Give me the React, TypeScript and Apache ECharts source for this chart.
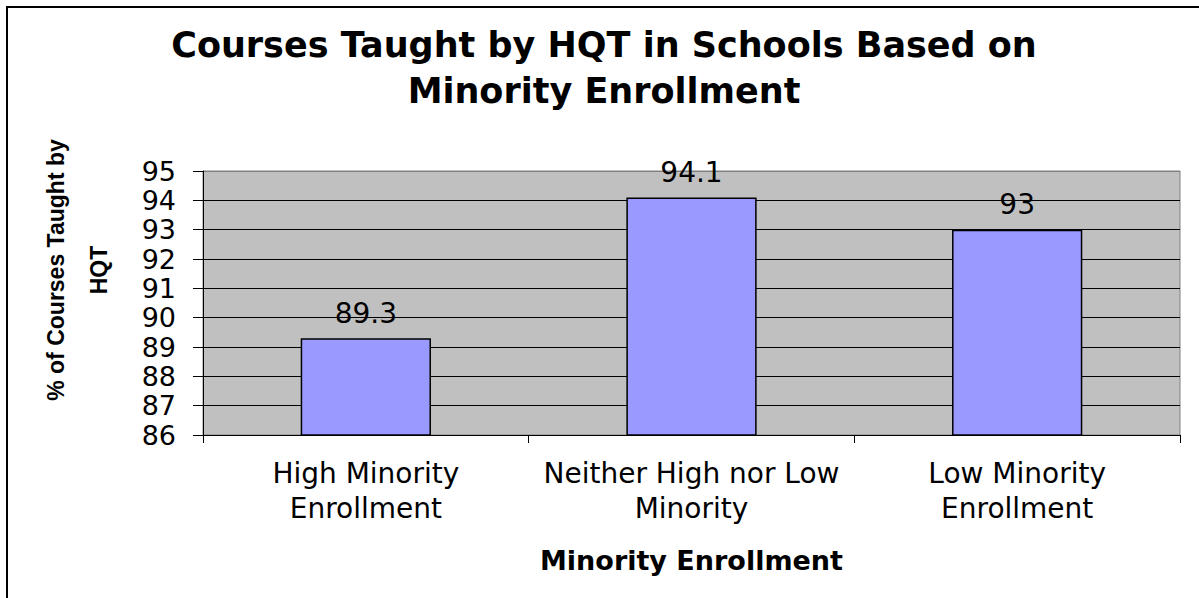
import React, { useEffect, useRef } from "react";
import * as echarts from "echarts";

const categories = [
  "High Minority\nEnrollment",
  "Neither High nor Low\nMinority",
  "Low Minority\nEnrollment",
];
const values = [89.3, 94.1, 93];
const titleText = "Courses Taught by HQT in Schools Based on\nMinority Enrollment";
const xAxisName = "Minority Enrollment";
const yAxisName = "% of Courses Taught by\nHQT";
const yMin = 86;
const yMax = 95;

export default function App() {
  const ref = useRef<HTMLDivElement>(null);
  useEffect(() => {
    if (!ref.current) return;
    const chart = echarts.init(ref.current, null, { renderer: "svg" });
    const gridColors = [];
    for (let v = yMin; v <= yMax; v++) gridColors.push(v === yMax ? "#808080" : "#000000");
    chart.setOption({
      animation: false,
      backgroundColor: "#ffffff",
      title: {
        text: titleText,
        left: 604,
        top: 22,
        padding: 0,
        textAlign: "center",
        textStyle: {
          fontFamily: "DejaVu Sans",
          fontSize: 35,
          fontWeight: "bold",
          lineHeight: 46,
          color: "#000",
        },
      },
      grid: {
        left: 203,
        right: 19,
        top: 171,
        bottom: 163,
        show: true,
        backgroundColor: "#C0C0C0",
        borderColor: "#808080",
        borderWidth: 1,
        containLabel: false,
      },
      xAxis: {
        type: "category",
        data: categories,
        name: xAxisName,
        nameLocation: "middle",
        nameGap: 112,
        nameTextStyle: {
          fontFamily: "DejaVu Sans",
          fontSize: 27,
          fontWeight: "bold",
          color: "#000",
        },
        axisLine: { lineStyle: { color: "#000", width: 1 } },
        axisTick: { show: true, length: 8, lineStyle: { color: "#000" } },
        axisLabel: {
          interval: 0,
          hideOverlap: false,
          fontFamily: "DejaVu Sans",
          fontSize: 28,
          lineHeight: 35,
          color: "#000",
          margin: 21,
        },
      },
      yAxis: {
        type: "value",
        min: yMin,
        max: yMax,
        interval: 1,
        axisLine: { show: true, lineStyle: { color: "#000", width: 1 } },
        axisTick: { show: true, length: 10, lineStyle: { color: "#000" } },
        axisLabel: {
          fontFamily: "DejaVu Sans",
          fontSize: 27,
          lineHeight: 24,
          color: "#000",
          margin: 27,
        },
        splitLine: { show: true, lineStyle: { color: gridColors, width: 1 } },
      },
      graphic: [
        {
          type: "rect",
          shape: { x: 7, y: 7, width: 1200, height: 600 },
          style: { fill: "none", stroke: "#000", lineWidth: 2 },
          silent: true,
        },
        {
          type: "text",
          x: 77,
          y: 270,
          rotation: Math.PI / 2,
          style: {
            text: yAxisName,
            font: 'bold 23px "Liberation Sans"',
            textAlign: "center",
            textVerticalAlign: "middle",
            lineHeight: 43,
            fill: "#000",
          },
        },
      ],
      series: [
        {
          type: "bar",
          data: values,
          barWidth: "40%",
          itemStyle: { color: "#9999FF", borderColor: "#000", borderWidth: 1.5 },
          label: {
            show: true,
            position: "top",
            distance: 11,
            fontFamily: "DejaVu Sans",
            fontSize: 28,
            color: "#000",
          },
        },
      ],
    });
    return () => chart.dispose();
  }, []);
  return (
    <div
      ref={ref}
      style={{ position: "absolute", left: 0, top: 0, width: 1199, height: 598 }}
    />
  );
}
